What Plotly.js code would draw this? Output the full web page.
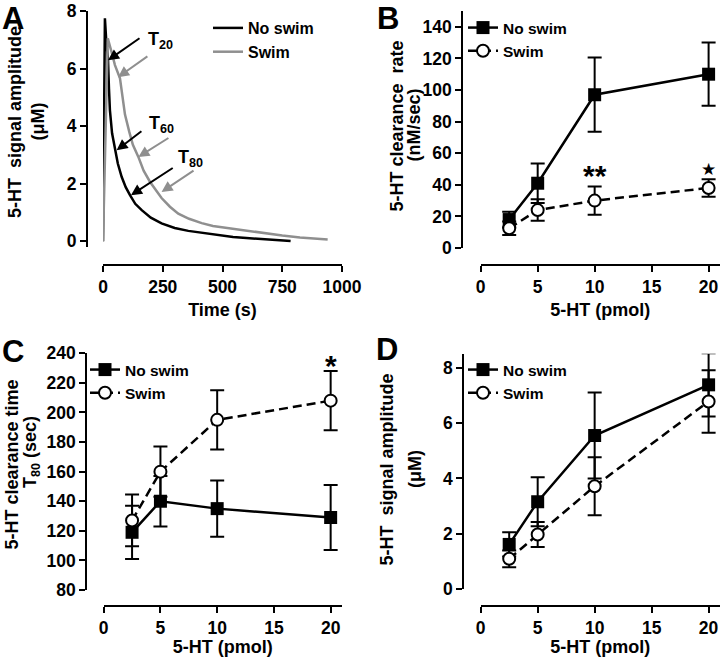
<!DOCTYPE html>
<html><head><meta charset="utf-8">
<script src="https://cdn.plot.ly/plotly-3.0.1.min.js"></script>
<style>html,body{margin:0;padding:0;background:#fff}#chart{width:720px;height:657px}</style>
</head><body><div id="chart"></div>
<script>
// ---------- Panel A: time course ----------
const timeNoSwim = [0, 8, 14, 21, 25, 29, 38, 50, 62, 78, 95, 113, 135, 162, 200, 245, 300, 357, 406, 450, 497, 544, 600, 685, 740, 785];
const ampNoSwim  = [0, 7.75, 6.9, 6.3, 5.3, 4.55, 3.75, 3.17, 2.7, 2.24, 1.88, 1.6, 1.3, 1.08, 0.82, 0.62, 0.46, 0.36, 0.3, 0.25, 0.2, 0.15, 0.11, 0.06, 0.03, 0.01];
const timeSwim   = [0, 20, 35, 50, 71, 92, 110, 125, 148, 170, 197, 245, 280, 315, 360, 413, 460, 503, 545, 600, 685, 750, 824, 880, 940];
const ampSwim    = [0, 7.05, 6.6, 6.12, 5.66, 4.4, 3.8, 3.35, 2.93, 2.45, 2.06, 1.5, 1.2, 0.96, 0.78, 0.63, 0.53, 0.48, 0.43, 0.36, 0.27, 0.2, 0.13, 0.09, 0.06];

// ---------- Panels B-D: dose response ----------
const dose = [2.5, 5, 10, 20];
const rateNoSwim = [18, 41, 97, 110];
const rateNoSwimErr = [5, 12.5, 23.5, 20];
const rateSwim = [12.5, 24, 30, 38];
const rateSwimErr = [4.2, 6.8, 9, 5.5];

const t80NoSwim = [119, 140, 135, 129];
const t80NoSwimErr = [18, 17, 19, 22];
const t80Swim = [127, 160, 195, 208];
const t80SwimErr = [17.5, 17, 20, 20];

const sigNoSwim = [1.62, 3.16, 5.55, 7.38];
const sigNoSwimErr = [0.44, 0.88, 1.55, 1.14];
const sigSwim = [1.1, 1.98, 3.72, 6.78];
const sigSwimErr = [0.3, 0.45, 1.05, 1.13];

const seriesNames = ['No swim', 'Swim'];

// ---------- helpers ----------
const W = 720, H = 657;
const px = v => v / W;
const py = v => 1 - v / H;
const FONT = '"Liberation Sans", Arial, Helvetica, sans-serif';
const tickFont = {family: FONT, size: 17.5, color: '#000', weight: 'bold'};
const titleFont = {family: FONT, size: 18, color: '#000', weight: 'bold'};
const GRAY = '#8f8f8f';

function xAxis(d0, d1, pos, range, dtick, title) {
  return {domain: [px(d0), px(d1)], anchor: 'free', position: py(pos), range: range,
    tickmode: 'linear', tick0: 0, dtick: dtick, ticks: 'outside', ticklen: 6, tickwidth: 2,
    tickcolor: '#000', showline: true, linewidth: 2, linecolor: '#000', showgrid: false,
    zeroline: false, tickfont: tickFont, title: {text: title, font: titleFont, standoff: 6},
    fixedrange: true, automargin: false};
}
function yAxis(d0, d1, pos, range, dtick) {
  return {domain: [py(d0), py(d1)], anchor: 'free', position: px(pos), range: range,
    tickmode: 'linear', tick0: 0, dtick: dtick, ticks: 'outside', ticklen: 6, tickwidth: 2,
    tickcolor: '#000', showline: true, linewidth: 2, linecolor: '#000', showgrid: false,
    zeroline: false, tickfont: tickFont, fixedrange: true, automargin: false};
}
function doseTraces(xa, ya, leg, yNo, eNo, ySw, eSw) {
  const common = {type: 'scatter', mode: 'lines+markers', x: dose, xaxis: xa, yaxis: ya,
    legend: leg, cliponaxis: false};
  return [
    Object.assign({}, common, {name: seriesNames[0], y: yNo,
      line: {color: '#000', width: 2.5},
      marker: {symbol: 'square', size: 13, color: '#000', line: {width: 0}},
      error_y: {type: 'data', array: eNo, visible: true, color: '#000', thickness: 2, width: 7}}),
    Object.assign({}, common, {name: seriesNames[1], y: ySw,
      line: {color: '#000', width: 2.5, dash: '9px,5px'},
      marker: {symbol: 'circle', size: 12, color: '#fff', line: {width: 2, color: '#000'}},
      error_y: {type: 'data', array: eSw, visible: true, color: '#000', thickness: 2, width: 7}})
  ];
}

const traces = [
  {type: 'scatter', mode: 'lines', name: seriesNames[0], x: timeNoSwim, y: ampNoSwim,
   xaxis: 'x', yaxis: 'y', legend: 'legend', line: {color: '#000', width: 2.5}},
  {type: 'scatter', mode: 'lines', name: seriesNames[1], x: timeSwim, y: ampSwim,
   xaxis: 'x', yaxis: 'y', legend: 'legend', line: {color: GRAY, width: 2.5}},
  ...doseTraces('x2', 'y2', 'legend2', rateNoSwim, rateNoSwimErr, rateSwim, rateSwimErr),
  ...doseTraces('x3', 'y3', 'legend3', t80NoSwim, t80NoSwimErr, t80Swim, t80SwimErr),
  ...doseTraces('x4', 'y4', 'legend4', sigNoSwim, sigNoSwimErr, sigSwim, sigSwimErr)
];

function legendAt(xp, yp, size) {
  return {x: px(xp), y: py(yp), xanchor: 'left', yanchor: 'top', bgcolor: 'rgba(0,0,0,0)',
    borderwidth: 0, itemwidth: 30, traceorder: 'normal',
    font: {family: FONT, size: size, color: '#000', weight: 'bold'}};
}

function label(text, xp, yp, opts) {
  return Object.assign({text: text, xref: 'paper', yref: 'paper', x: px(xp), y: py(yp),
    showarrow: false, xanchor: 'center', yanchor: 'middle', borderpad: 0,
    font: titleFont}, opts || {});
}
function ytitle(text, xp, yp) {
  return label(text, xp, yp, {textangle: -90});
}
function arrow(x, y, ax, ay, color) {
  return {xref: 'x', yref: 'y', axref: 'x', ayref: 'y', x: x, y: y, ax: ax, ay: ay, text: '',
    showarrow: true, arrowhead: 2, arrowsize: 1.1, arrowwidth: 2, arrowcolor: color};
}
function tlabel(text, x, y) {
  return {xref: 'x', yref: 'y', x: x, y: y, text: text, showarrow: false,
    xanchor: 'center', yanchor: 'middle', font: titleFont};
}
const letterFont = {family: FONT, size: 31, color: '#000', weight: 'bold'};

const annotations = [
  label('A', 1, 0, {xanchor: 'left', yanchor: 'top', font: letterFont}),
  label('B', 376, 0, {xanchor: 'left', yanchor: 'top', font: letterFont}),
  label('C', 1, 333, {xanchor: 'left', yanchor: 'top', font: letterFont}),
  label('D', 375, 331, {xanchor: 'left', yanchor: 'top', font: letterFont}),
  // y-axis titles
  ytitle('5-HT  signal amplitude', 15, 122),
  ytitle('(μM)', 37.5, 122),
  ytitle('5-HT clearance  rate', 396.5, 126),
  ytitle('(nM/sec)', 413.5, 125),
  ytitle('5-HT clearance time', 11.5, 465),
  ytitle('T<sub>80</sub> (sec)', 31, 452),
  ytitle('5-HT  signal amplitude', 386.5, 470),
  ytitle('(μM)', 415, 469),
  // Panel A arrows & labels
  arrow(21, 6.29, 159, 7.09, '#000'),
  arrow(63, 5.7, 192, 6.46, GRAY),
  arrow(57, 3.16, 167, 3.86, '#000'),
  arrow(148, 2.93, 280, 3.62, GRAY),
  arrow(117, 1.6, 298, 2.58, '#000'),
  arrow(245, 1.71, 385, 2.49, GRAY),
  tlabel('T<sub>20</sub>', 239, 6.98),
  tlabel('T<sub>60</sub>', 243, 4.07),
  tlabel('T<sub>80</sub>', 368, 2.88),
  // significance marks
  {xref: 'x2', yref: 'y2', x: 10, y: 46, text: '**', showarrow: false, xanchor: 'center',
   yanchor: 'middle', font: {family: FONT, size: 30, color: '#000', weight: 'bold'}},
  {xref: 'x2', yref: 'y2', x: 20, y: 50, text: '★', showarrow: false, xanchor: 'center',
   yanchor: 'middle', font: {family: 'DejaVu Sans', size: 17, color: '#000'}},
  {xref: 'x3', yref: 'y3', x: 20, y: 232, text: '*', showarrow: false, xanchor: 'center',
   yanchor: 'middle', font: {family: FONT, size: 30, color: '#000', weight: 'bold'}}
];

const layout = {
  width: W, height: H, margin: {l: 0, r: 0, t: 0, b: 0, pad: 0},
  paper_bgcolor: '#fff', plot_bgcolor: 'rgba(0,0,0,0)', showlegend: true,
  font: {family: FONT, color: '#000'},
  xaxis:  xAxis(103, 342, 265, [0, 1000], 250, 'Time (s)'),
  yaxis:  yAxis(247, 11, 87, [-0.2, 8], 2),
  xaxis2: xAxis(480.7, 720, 265, [0, 21], 5, '5-HT (pmol)'),
  yaxis2: yAxis(248, 11, 462.3, [0, 150], 20),
  xaxis3: xAxis(103.7, 342, 606, [0, 21], 5, '5-HT (pmol)'),
  yaxis3: yAxis(590, 353.3, 86.3, [80, 240], 20),
  xaxis4: xAxis(480.7, 720, 606, [0, 21], 5, '5-HT (pmol)'),
  yaxis4: yAxis(589.3, 353.8, 463.3, [0, 8.5], 2),
  legend:  legendAt(208, 11, 16),
  legend2: legendAt(463, 11, 15.5),
  legend3: legendAt(85, 353, 15.5),
  legend4: legendAt(463, 353, 15.5),
  annotations: annotations
};

Plotly.newPlot('chart', traces, layout, {staticPlot: true, displayModeBar: false});
</script>
</body></html>
